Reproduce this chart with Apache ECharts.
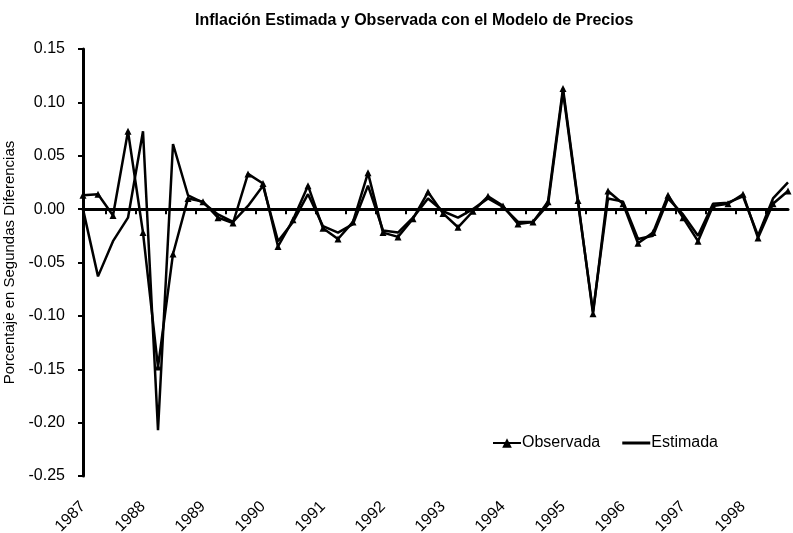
<!DOCTYPE html>
<html>
<head>
<meta charset="utf-8">
<script src="https://cdn.jsdelivr.net/npm/echarts@6/dist/echarts.min.js"></script>
<style>html,body{margin:0;padding:0;background:#fff;}#c{width:793px;height:533px;}</style>
</head>
<body>
<div id="c"></div>
<script>
const years = ['1987','1988','1989','1990','1991','1992','1993','1994','1995','1996','1997','1998'];
const categories = [];
years.forEach(y => { for (let q = 1; q <= 4; q++) categories.push(y + 'T' + q); });
const observada = [0.013,0.014,-0.006,0.073,-0.022,-0.148,-0.042,0.010,0.007,-0.008,-0.013,0.033,
  0.024,-0.035,-0.010,0.022,-0.018,-0.028,-0.012,0.034,-0.022,-0.026,-0.009,0.016,
  -0.004,-0.017,-0.002,0.012,0.003,-0.014,-0.012,0.007,0.113,0.008,-0.098,0.017,
  0.005,-0.032,-0.022,0.013,-0.008,-0.030,0.003,0.005,0.014,-0.027,0.005,0.017];
const estimada = [0.000,-0.063,-0.030,-0.008,0.073,-0.207,0.061,0.013,0.006,-0.005,-0.012,0.003,
  0.022,-0.030,-0.012,0.014,-0.016,-0.022,-0.014,0.022,-0.020,-0.022,-0.008,0.010,
  -0.002,-0.008,0.000,0.010,0.002,-0.012,-0.012,0.004,0.110,0.006,-0.096,0.010,
  0.007,-0.028,-0.025,0.010,-0.005,-0.025,0.005,0.006,0.012,-0.025,0.010,0.025];

const font = 'Liberation Sans, Arial, sans-serif';
const tickPositions = [];
for (let i = 1; i < categories.length - 1; i += 2) tickPositions.push(i + 0.5);

const chart = echarts.init(document.getElementById('c'), null, {renderer: 'canvas'});
chart.setOption({
  animation: false,
  backgroundColor: '#fff',
  title: {
    text: 'Inflación Estimada y Observada con el Modelo de Precios',
    left: 190, top: 8,
    textStyle: {fontFamily: font, fontSize: 16, fontWeight: 'bold', color: '#000'}
  },
  legend: {
    left: 487, top: 430,
    itemWidth: 28, itemHeight: 12, itemGap: 22,
    textStyle: {fontFamily: font, fontSize: 16, color: '#000', padding: [0,0,0,-4]},
    data: [
      {name: 'Observada'},
      {name: 'Estimada', icon: 'path://M0 0H28V3H0Z'}
    ]
  },
  grid: {left: 83, right: 5, top: 49, bottom: 57, containLabel: false, outerBoundsMode: 'none'},
  xAxis: [{
    type: 'category',
    data: categories,
    boundaryGap: false,
    position: 'bottom',
    axisLine: {show: false, onZero: false},
    axisTick: {show: false},
    axisLabel: {
      interval: 3, rotate: 45, margin: 28,
      fontFamily: font, fontSize: 16, color: '#000',
      formatter: v => v.slice(0, 4)
    },
    splitLine: {show: false}
  }, {
    type: 'value',
    min: 0, max: categories.length - 1,
    position: 'bottom',
    axisLine: {show: true, onZero: true, lineStyle: {color: '#000', width: 3}},
    axisTick: {show: true, customValues: tickPositions, length: 5, lineStyle: {color: '#000', width: 2}},
    axisLabel: {show: false},
    splitLine: {show: false}
  }],
  yAxis: {
    type: 'value',
    min: -0.25, max: 0.15, interval: 0.05,
    name: 'Porcentaje en Segundas Diferencias',
    nameLocation: 'middle', nameGap: 62,
    nameTextStyle: {fontFamily: font, fontSize: 15, color: '#000'},
    axisLine: {show: true, lineStyle: {color: '#000', width: 3}},
    axisTick: {show: true, length: 5, lineStyle: {color: '#000', width: 2}},
    axisLabel: {
      fontFamily: font, fontSize: 16, color: '#000', margin: 18,
      formatter: v => v.toFixed(2)
    },
    splitLine: {show: false}
  },
  series: [{
    name: 'Observada',
    type: 'line',
    xAxisIndex: 0,
    data: observada,
    symbol: 'triangle', symbolSize: 7,
    itemStyle: {color: '#000'},
    lineStyle: {color: '#000', width: 2.5}
  }, {
    name: 'Estimada',
    type: 'line',
    xAxisIndex: 0,
    data: estimada,
    symbol: 'none',
    itemStyle: {color: '#000'},
    lineStyle: {color: '#000', width: 2.5}
  }]
});
</script>
</body>
</html>
